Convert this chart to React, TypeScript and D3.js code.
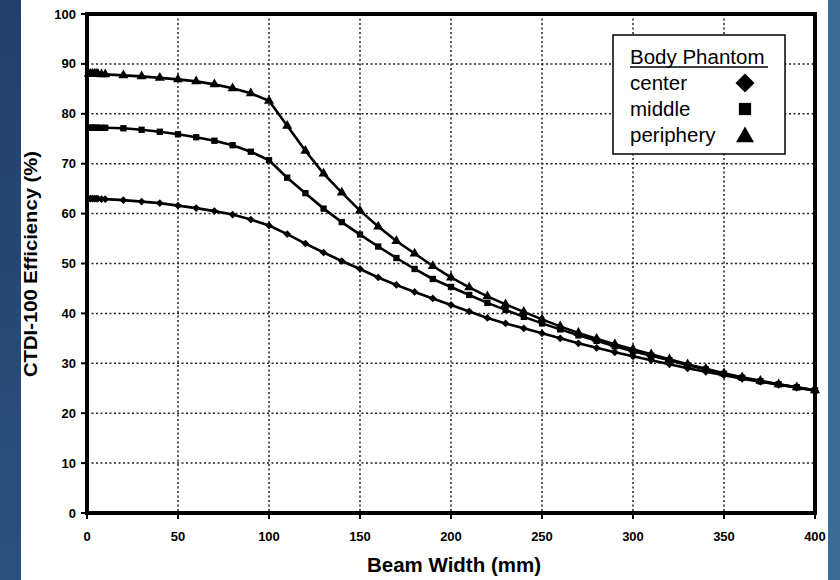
import React from "react";
import * as d3 from "d3";

const beamWidth = [1, 2, 3, 4, 5, 6, 8, 10, 20, 30, 40, 50, 60, 70, 80, 90, 100, 110, 120, 130, 140, 150, 160, 170, 180, 190, 200, 210, 220, 230, 240, 250, 260, 270, 280, 290, 300, 310, 320, 330, 340, 350, 360, 370, 380, 390, 400];

const center = [63.0, 63.0, 63.0, 63.0, 63.0, 63.0, 62.9, 62.9, 62.7, 62.4, 62.1, 61.6, 61.1, 60.5, 59.8, 58.8, 57.6, 55.9, 54.0, 52.2, 50.5, 48.9, 47.2, 45.7, 44.3, 43.0, 41.7, 40.4, 39.1, 38.0, 37.0, 36.0, 35.0, 34.0, 33.1, 32.2, 31.4, 30.6, 29.8, 29.0, 28.3, 27.6, 26.9, 26.3, 25.7, 25.1, 24.5];

const middle = [77.2, 77.2, 77.2, 77.2, 77.2, 77.2, 77.2, 77.2, 77.1, 76.8, 76.4, 75.9, 75.3, 74.6, 73.7, 72.4, 70.7, 67.2, 64.1, 61.0, 58.3, 55.8, 53.4, 51.1, 48.9, 46.9, 45.3, 43.7, 42.1, 40.7, 39.3, 38.0, 36.8, 35.6, 34.5, 33.4, 32.4, 31.5, 30.6, 29.6, 28.8, 27.9, 27.1, 26.4, 25.8, 25.2, 24.6];

const periphery = [88.0, 88.0, 88.0, 88.0, 88.0, 88.0, 87.9, 87.9, 87.7, 87.5, 87.2, 86.9, 86.5, 85.9, 85.1, 84.1, 82.6, 77.6, 72.6, 68.0, 64.2, 60.6, 57.4, 54.5, 52.0, 49.5, 47.2, 45.2, 43.4, 41.8, 40.3, 38.8, 37.4, 36.1, 34.9, 33.8, 32.8, 31.8, 30.8, 29.8, 28.9, 28.0, 27.2, 26.5, 25.8, 25.2, 24.6];

const xTicks = [0, 50, 100, 150, 200, 250, 300, 350, 400];
const yTicks = [0, 10, 20, 30, 40, 50, 60, 70, 80, 90, 100];
const seriesNames = ["center", "middle", "periphery"];
const legendTitle = "Body Phantom";
const xTitle = "Beam Width (mm)";
const yTitle = "CTDI-100 Efficiency (%)";

const FONT = "'Liberation Sans', Arial, Helvetica, sans-serif";

export default function App() {
  const left = 87, right = 815, top = 14, bottom = 513;
  const x = d3.scaleLinear().domain([0, 400]).range([left, right]);
  const y = d3.scaleLinear().domain([0, 100]).range([bottom, top]);

  const series = [
    { name: seriesNames[0], values: center, shape: "diamond" },
    { name: seriesNames[1], values: middle, shape: "square" },
    { name: seriesNames[2], values: periphery, shape: "triangle" },
  ];

  const line = d3
    .line<number>()
    .x((_, i) => x(beamWidth[i]))
    .y((d) => y(d));

  const markerPath = (shape: string, big: boolean) => {
    if (shape === "diamond") {
      return d3.symbol().type(d3.symbolSquare).size(big ? 180 : 30)() as string;
    }
    if (shape === "square") {
      return d3.symbol().type(d3.symbolSquare).size(big ? 150 : 40)() as string;
    }
    return d3.symbol().type(d3.symbolTriangle).size(big ? 140 : 44)() as string;
  };

  const legendX = 613, legendY = 35, legendW = 172, legendH = 119;

  return (
    <div style={{ position: "absolute", left: 0, top: 0 }}>
      <svg width={840} height={580} style={{ display: "block" }}>
        <defs>
          <linearGradient id="lg" x1="0" y1="0" x2="0" y2="1">
            <stop offset="0" stopColor="#223f6c" />
            <stop offset="1" stopColor="#2a5080" />
          </linearGradient>
        </defs>
        <rect x={0} y={0} width={840} height={580} fill="#ffffff" />
        <rect x={0} y={0} width={21} height={580} fill="url(#lg)" />
        <rect x={828} y={0} width={12} height={580} fill="#3b6d99" />

        {/* grid */}
        {yTicks
          .filter((t) => t > 0 && t < 100)
          .map((t) => (
            <line
              key={"gy" + t}
              x1={left}
              x2={right}
              y1={y(t)}
              y2={y(t)}
              stroke="#222"
              strokeWidth={1.5}
              strokeDasharray="2,2.5"
            />
          ))}
        {xTicks
          .filter((t) => t > 0 && t < 400)
          .map((t) => (
            <line
              key={"gx" + t}
              x1={x(t)}
              x2={x(t)}
              y1={top}
              y2={bottom}
              stroke="#222"
              strokeWidth={1.5}
              strokeDasharray="2,2.5"
            />
          ))}

        {/* ticks */}
        {yTicks.map((t) => (
          <line key={"ty" + t} x1={left - 6} x2={left} y1={y(t)} y2={y(t)} stroke="#000" strokeWidth={2} />
        ))}
        {xTicks.map((t) => (
          <line key={"tx" + t} x1={x(t)} x2={x(t)} y1={bottom} y2={bottom + 6} stroke="#000" strokeWidth={2} />
        ))}

        {/* tick labels */}
        {yTicks.map((t) => (
          <text
            key={"ly" + t}
            x={left - 11}
            y={y(t)}
            dy="0.35em"
            textAnchor="end"
            fontFamily={FONT}
            fontWeight="bold"
            fontSize={13}
            fill="#000"
          >
            {t}
          </text>
        ))}
        {xTicks.map((t) => (
          <text
            key={"lx" + t}
            x={x(t)}
            y={bottom + 28}
            textAnchor="middle"
            fontFamily={FONT}
            fontWeight="bold"
            fontSize={13}
            fill="#000"
          >
            {t}
          </text>
        ))}

        {/* axis titles */}
        <text
          x={454}
          y={572}
          textAnchor="middle"
          fontFamily={FONT}
          fontWeight="bold"
          fontSize={19.5}
          textLength={174}
          lengthAdjust="spacingAndGlyphs"
          fill="#000"
        >
          {xTitle}
        </text>
        <text
          transform={`translate(37,264) rotate(-90)`}
          textAnchor="middle"
          fontFamily={FONT}
          fontWeight="bold"
          fontSize={19}
          textLength={226}
          lengthAdjust="spacingAndGlyphs"
          fill="#000"
        >
          {yTitle}
        </text>

        {/* series */}
        {series.map((s) => (
          <g key={s.name}>
            <path d={line(s.values) as string} fill="none" stroke="#000" strokeWidth={2.6} />
            {s.values.map((v, i) => (
              <path
                key={i}
                d={markerPath(s.shape, false)}
                transform={`translate(${x(beamWidth[i])},${y(v)})${s.shape === "diamond" ? " rotate(45)" : ""}`}
                fill="#000"
              />
            ))}
          </g>
        ))}

        {/* frame */}
        <rect x={left} y={top} width={right - left} height={bottom - top} fill="none" stroke="#000" strokeWidth={4} />

        {/* legend */}
        <rect x={legendX} y={legendY} width={legendW} height={legendH} fill="#fff" stroke="#000" strokeWidth={1.5} />
        <text x={legendX + 17} y={legendY + 29} fontFamily={FONT} fontSize={20.5} fill="#000">
          {legendTitle}
        </text>
        <line x1={legendX + 17} x2={legendX + 155} y1={legendY + 32} y2={legendY + 32} stroke="#000" strokeWidth={1.3} />
        {series.map((s, i) => (
          <g key={"leg" + s.name}>
            <text x={legendX + 17} y={legendY + 55 + i * 26} fontFamily={FONT} fontSize={20.5} fill="#000">
              {s.name}
            </text>
            <path
              d={markerPath(s.shape, true)}
              transform={`translate(${legendX + 132},${legendY + 48 + i * 26 + (s.shape === "triangle" ? 2 : 0)})${s.shape === "diamond" ? " rotate(45)" : ""}`}
              fill="#000"
            />
          </g>
        ))}
      </svg>
    </div>
  );
}
